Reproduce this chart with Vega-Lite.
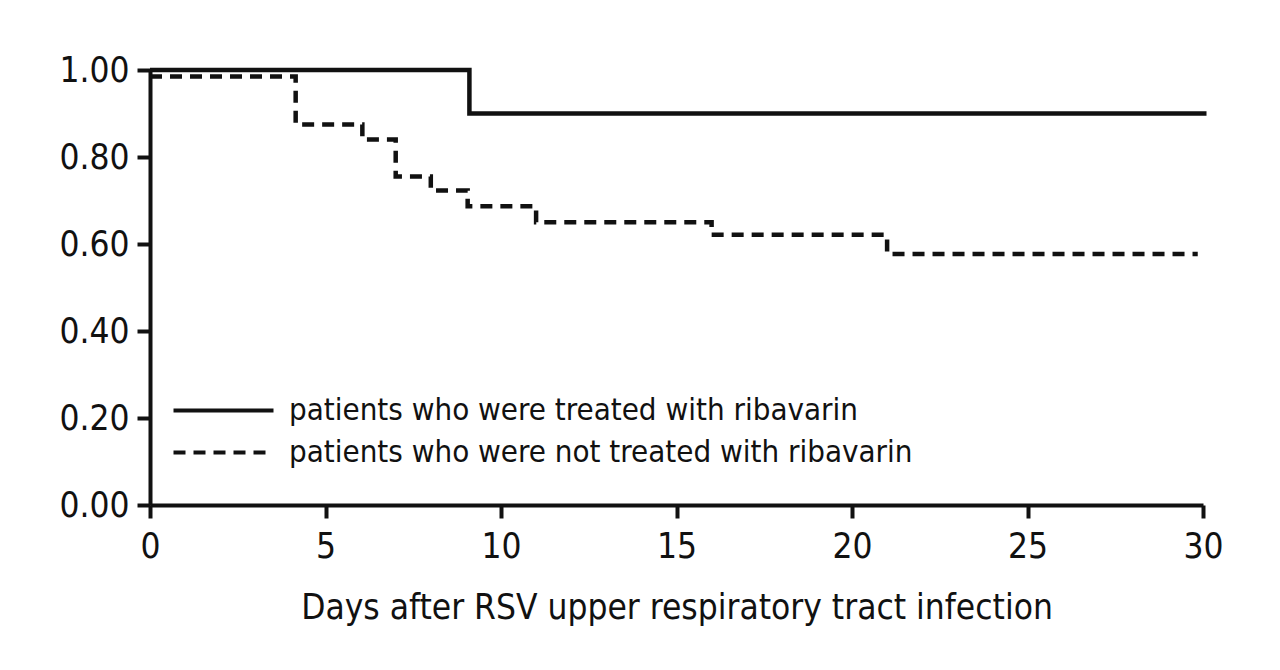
{
  "$schema": "https://vega.github.io/schema/vega-lite/v6.json",
  "autosize": {"type": "none"},
  "padding": {"left": 150, "top": 70, "right": 77, "bottom": 165},
  "width": 1053,
  "height": 435,
  "background": "white",
  "config": {
    "font": "DejaVu Sans Condensed",
    "view": {"stroke": null},
    "axis": {
      "domainColor": "#111111",
      "domainWidth": 4,
      "tickColor": "#111111",
      "tickWidth": 4,
      "tickSize": 13,
      "grid": false,
      "labelFlush": false,
      "labelColor": "#111111",
      "labelFont": "DejaVu Sans Condensed",
      "labelFontSize": 35,
      "titleFont": "DejaVu Sans Condensed",
      "titleFontSize": 35,
      "titleFontWeight": "normal",
      "titleColor": "#111111",
      "labelPadding": 8
    }
  },
  "data": {
    "values": [
      {"group": "patients who were treated with ribavarin", "day": 0, "surv": 1.0},
      {"group": "patients who were treated with ribavarin", "day": 9.1, "surv": 0.9},
      {"group": "patients who were treated with ribavarin", "day": 30.1, "surv": 0.9},
      {"group": "patients who were not treated with ribavarin", "day": 0, "surv": 0.985},
      {"group": "patients who were not treated with ribavarin", "day": 4.15, "surv": 0.875},
      {"group": "patients who were not treated with ribavarin", "day": 6.05, "surv": 0.84},
      {"group": "patients who were not treated with ribavarin", "day": 7.0, "surv": 0.755},
      {"group": "patients who were not treated with ribavarin", "day": 8.0, "surv": 0.723},
      {"group": "patients who were not treated with ribavarin", "day": 9.05, "surv": 0.687},
      {"group": "patients who were not treated with ribavarin", "day": 11.0, "surv": 0.65},
      {"group": "patients who were not treated with ribavarin", "day": 16.0, "surv": 0.621},
      {"group": "patients who were not treated with ribavarin", "day": 21.0, "surv": 0.577},
      {"group": "patients who were not treated with ribavarin", "day": 29.85, "surv": 0.577}
    ]
  },
  "mark": {"type": "line", "interpolate": "step-after", "strokeWidth": 4.5, "color": "#111111", "clip": false},
  "encoding": {
    "x": {
      "field": "day", "type": "quantitative",
      "scale": {"domain": [0, 30], "nice": false, "zero": false},
      "axis": {"values": [0, 5, 10, 15, 20, 25, 30], "title": "Days after RSV upper respiratory tract infection", "titlePadding": 26, "labelPadding": 11}
    },
    "y": {
      "field": "surv", "type": "quantitative",
      "scale": {"domain": [0, 1], "nice": false},
      "axis": {"values": [0, 0.2, 0.4, 0.6, 0.8, 1.0], "format": ".2f", "title": null}
    },
    "strokeDash": {
      "field": "group", "type": "nominal",
      "scale": {
        "domain": ["patients who were treated with ribavarin", "patients who were not treated with ribavarin"],
        "range": [[1, 0], [12, 8]]
      },
      "legend": {
        "title": null,
        "orient": "none",
        "legendX": 58,
        "legendY": 325,
        "symbolType": "M-5,0H5",
        "symbolSize": 400,
        "symbolStrokeWidth": 4,
        "symbolStrokeColor": "#111111",
        "symbolFillColor": "transparent",
        "labelFont": "DejaVu Sans Condensed",
        "labelFontSize": 31,
        "labelColor": "#111111",
        "labelOffset": 50,
        "rowPadding": 10,
        "labelLimit": 0
      }
    }
  }
}
